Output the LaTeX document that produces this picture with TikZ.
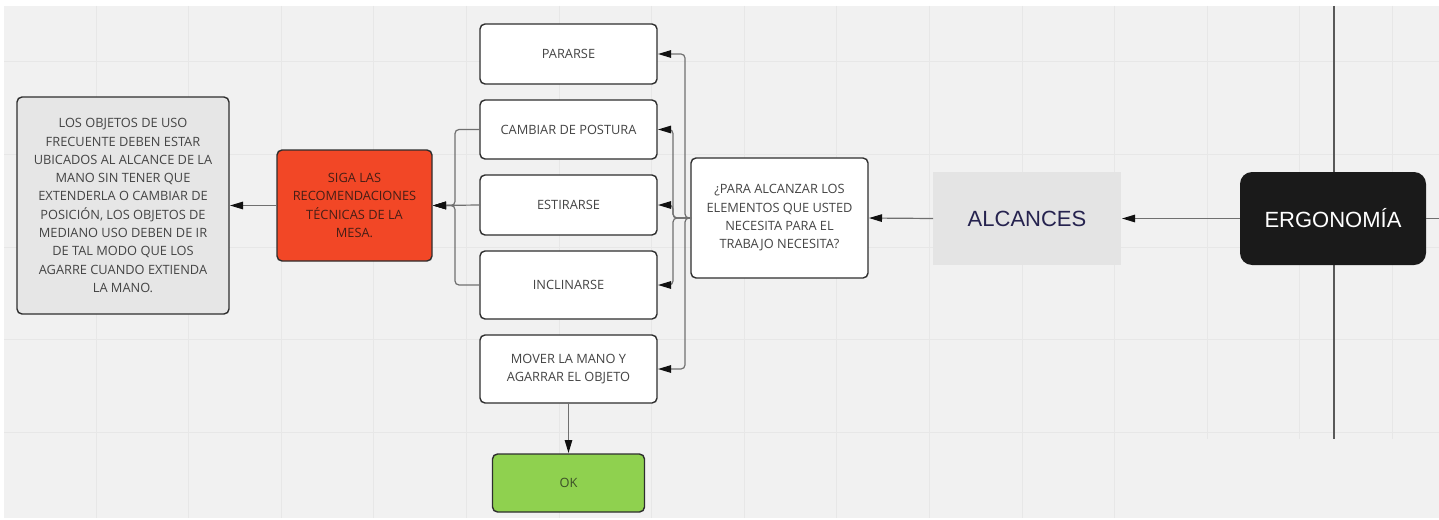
\documentclass[tikz,border=0pt]{standalone}
\usepackage{fontspec}
\newfontfamily\osans{Open Sans}
\newfontfamily\lsans{Liberation Sans}
\usetikzlibrary{arrows.meta}
\definecolor{bgc}{HTML}{F1F1F1}
\definecolor{gridc}{HTML}{E7E7E7}
\definecolor{bord}{HTML}{2E2E2E}
\definecolor{txt}{HTML}{444444}
\definecolor{grayfill}{HTML}{E6E6E6}
\definecolor{redfill}{HTML}{F24726}
\definecolor{greenfill}{HTML}{8FD14F}
\definecolor{alcfill}{HTML}{E4E4E4}
\definecolor{alctxt}{HTML}{26234F}
\definecolor{ergfill}{HTML}{1A1A1A}
\definecolor{linec}{HTML}{707070}
\definecolor{tipc}{HTML}{111111}
\begin{document}
\begin{tikzpicture}[x=1pt,y=-1pt,
  box/.style={draw=bord, line width=1.4pt, rounded corners=5pt, fill=white,
    font=\osans\fontsize{12.8}{18.3}\selectfont, text=txt, align=center,
    inner sep=0pt, outer sep=0pt},
  conn/.style={draw=linec, line width=1.2pt, rounded corners=4pt, shorten >=1pt,
    -{Triangle[length=13pt,width=7.5pt,color=tipc]}},
  plain/.style={draw=linec, line width=1.2pt, rounded corners=4pt},
  bigtxt/.style={font=\lsans\fontsize{22}{26}\selectfont, inner sep=0pt, outer sep=0pt}]
\useasboundingbox (0,0) rectangle (1439,519);
\fill[white] (0,0) rectangle (1439,519);
\fill[bgc] (4,6) rectangle (1439,518);
% grid
\foreach \k in {0,...,11} {\draw[gridc, line width=1pt] ({96+92.6*\k},6) -- ({96+92.6*\k},518);}
\foreach \k in {12,...,14} {\draw[gridc, line width=1pt] ({96+92.6*\k},6) -- ({96+92.6*\k},439);}
\foreach \yy in {62,154.5,247,339.5,432} {\draw[gridc, line width=1pt] (4,\yy) -- (1439,\yy);}
% crosshair line behind ERGONOMIA
\coordinate (vtop) at (1334,6);
\coordinate (vbot) at (1334,439);
\draw[draw=black!65, line width=1.3pt] (vtop) -- (vbot);

% nodes
\node[box, fill=grayfill, minimum width=212, minimum height=217] (gray) at (123,205.5)
 {LOS OBJETOS DE USO\\FRECUENTE DEBEN ESTAR\\UBICADOS AL ALCANCE DE LA\\MANO SIN TENER QUE\\EXTENDERLA O CAMBIAR DE\\POSICIÓN, LOS OBJETOS DE\\MEDIANO USO DEBEN DE IR\\DE TAL MODO QUE LOS\\AGARRE CUANDO EXTIENDA\\LA MANO.};
\node[box, fill=redfill, text={rgb,255:red,70;green,30;blue,22}, minimum width=155, minimum height=111] (red) at (354.5,205.5)
 {SIGA LAS\\RECOMENDACIONES\\TÉCNICAS DE LA\\MESA.};
\node[box, minimum width=177, minimum height=60] (pararse) at (568.5,54) {PARARSE};
\node[box, minimum width=177, minimum height=59] (cambiar) at (568.5,129.5) {CAMBIAR DE POSTURA};
\node[box, minimum width=177, minimum height=60] (estirarse) at (568.5,205) {ESTIRARSE};
\node[box, minimum width=177, minimum height=68] (inclinarse) at (568.5,285) {INCLINARSE};
\node[box, minimum width=177, minimum height=68] (mover) at (568.5,369) {MOVER LA MANO Y\\AGARRAR EL OBJETO};
\node[box, fill=greenfill, text={rgb,255:red,60;green,80;blue,40}, minimum width=152, minimum height=58] (ok) at (568.5,483) {OK};
\node[box, minimum width=177, minimum height=120] (q) at (779.5,218)
 {¿PARA ALCANZAR LOS\\ELEMENTOS QUE USTED\\NECESITA PARA EL\\TRABAJO NECESITA?};
\node[bigtxt, fill=alcfill, text=alctxt, minimum width=188, minimum height=93] (alc) at (1027,218.5) {ALCANCES};
\node[bigtxt, fill=ergfill, text=white, rounded corners=12pt, minimum width=186, minimum height=93] (erg) at (1333,218.5) {ERGONOMÍA};
\coordinate (stub) at (1439,218.5);

% connectors
\draw[plain] (erg.east) -- (stub);
\draw[conn] (erg.west) -- (alc.east);
\draw[conn] (alc.west) -- (q.east);
\draw[conn] (q.west) -- ++(-6,0) |- (pararse.east);
\draw[conn] (q.west) -- ++(-6,0) |- (mover.east);
\draw[conn] (q.west) -- ++(-18,0) |- (cambiar.east);
\draw[conn] (q.west) -- ++(-18,0) |- (estirarse.east);
\draw[conn] (q.west) -- ++(-18,0) |- (inclinarse.east);
\draw[conn] (cambiar.west) -- ++(-25,0) |- (red.east);
\draw[conn] (inclinarse.west) -- ++(-25,0) |- (red.east);
\draw[conn] (estirarse.west) -- (red.east);
\draw[conn] (red.west) -- (gray.east);
\draw[conn] (mover.south) -- (ok.north);
\end{tikzpicture}
\end{document}
